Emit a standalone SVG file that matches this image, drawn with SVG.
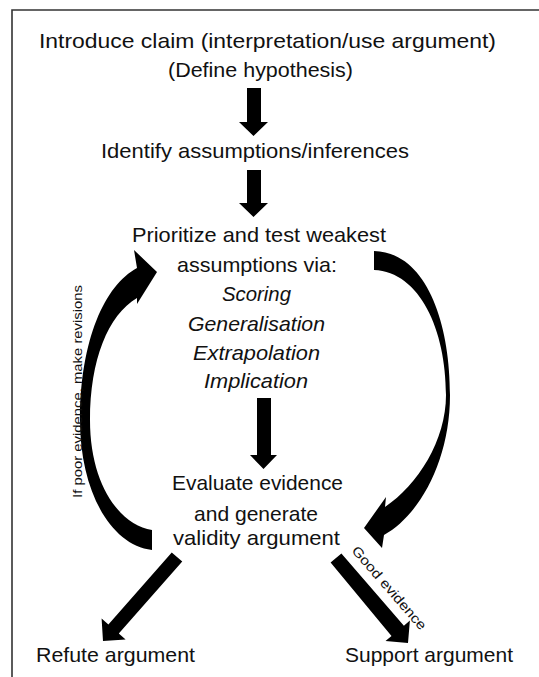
<svg xmlns="http://www.w3.org/2000/svg" width="539" height="677" viewBox="0 0 539 677">
<style>
.t{font-family:"Liberation Sans","Open Sans",sans-serif;font-size:21px;fill:#111}
.i{font-style:italic}
.s{font-family:"Liberation Sans","Open Sans",sans-serif;font-size:13.5px;fill:#111}
.a{fill:#000}
</style>
<rect width="539" height="677" fill="#fff"/>
<path d="M12,677 V10 H539" fill="none" stroke="#333" stroke-width="1.6"/>
<g id="n1"><text class="t" x="39" y="48" textLength="457" lengthAdjust="spacingAndGlyphs">Introduce claim (interpretation/use argument)</text>
<text class="t" x="168" y="77" textLength="185" lengthAdjust="spacingAndGlyphs">(Define hypothesis)</text></g>
<g id="n2"><text class="t" x="101" y="158" textLength="308" lengthAdjust="spacingAndGlyphs">Identify assumptions/inferences</text></g>
<g id="n3"><text class="t" x="132" y="242" textLength="254" lengthAdjust="spacingAndGlyphs">Prioritize and test weakest</text>
<text class="t" x="177" y="272" textLength="160" lengthAdjust="spacingAndGlyphs">assumptions via:</text>
<text class="t i" x="222" y="301" textLength="69" lengthAdjust="spacingAndGlyphs">Scoring</text>
<text class="t i" x="188" y="331" textLength="137" lengthAdjust="spacingAndGlyphs">Generalisation</text>
<text class="t i" x="193" y="360" textLength="127" lengthAdjust="spacingAndGlyphs">Extrapolation</text>
<text class="t i" x="204" y="388" textLength="104" lengthAdjust="spacingAndGlyphs">Implication</text></g>
<g id="n4"><text class="t" x="172" y="490" textLength="171" lengthAdjust="spacingAndGlyphs">Evaluate evidence</text>
<text class="t" x="194" y="521" textLength="124" lengthAdjust="spacingAndGlyphs">and generate</text>
<text class="t" x="173" y="545" textLength="167" lengthAdjust="spacingAndGlyphs">validity argument</text></g>
<g id="n5"><text class="t" x="36" y="662" textLength="159" lengthAdjust="spacingAndGlyphs">Refute argument</text></g>
<g id="n6"><text class="t" x="345" y="662" textLength="168" lengthAdjust="spacingAndGlyphs">Support argument</text></g>
<g id="connectors">
<polygon class="a" points="247,88 261,88 261,122 268,122 253.5,136 239,122 247,122"/>
<polygon class="a" points="247,170 261,170 261,203 268,203 253.5,217 239,203 247,203"/>
<polygon class="a" points="257,398 271,398 271,455 277,455 263.5,469 250,455 257,455"/>
<polygon class="a" points="171.75,552.4 182.25,561.6 118.8,633.6 125.6,639.6 103,641 101.6,618.4 108.4,624.4"/>
<polygon class="a" points="341.4,553.4 330.6,562.4 391.5,635.9 385.5,641.1 408,643 409.9,620.5 403.9,625.7"/>
<path class="a" d="M152,550 C110,545 80,490 80,420 C80,340 105,285 137,268 L134,250 L157,272 L137,304 L137,298 C108,315 90,360 90,420 C90,485 120,525 152,530 Z"/>
<path class="a" d="M374,251 C425,252 450,320 450,395 C450,460 420,515 384,535 L382,548 L364,528 L386,497 L385,507 C418,485 446,440 446,395 C446,330 420,272 374,270 Z"/>
<text class="s" transform="translate(82,498) rotate(-90)" textLength="213" lengthAdjust="spacingAndGlyphs">If poor evidence, make revisions</text>
<text class="s" transform="translate(351,551) rotate(49)" textLength="106" lengthAdjust="spacingAndGlyphs">Good evidence</text>
</g>
</svg>
